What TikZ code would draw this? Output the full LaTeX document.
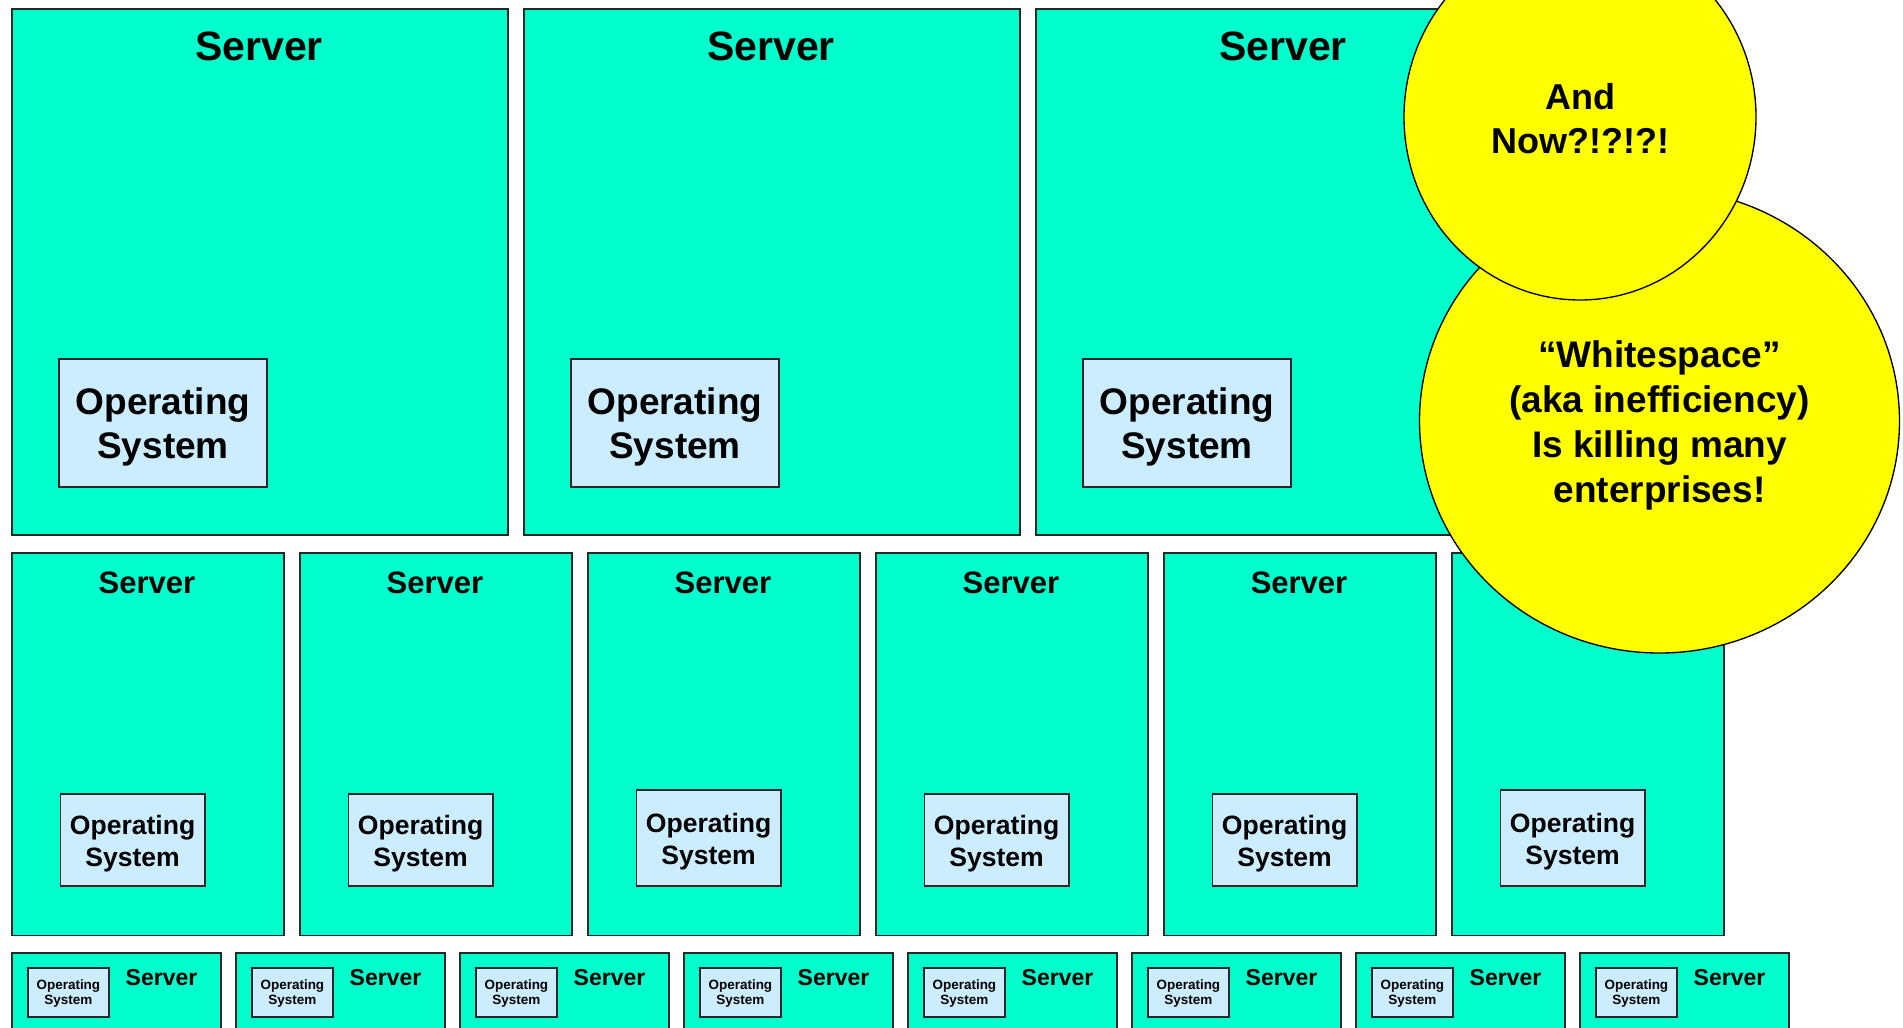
\documentclass[tikz,border=0pt]{standalone}
\usepackage{fontspec}
\setmainfont[Ligatures=NoCommon]{Liberation Sans}
\usetikzlibrary{shapes.geometric}

\definecolor{srvfill}{RGB}{0,255,204}
\definecolor{osfill}{RGB}{204,236,255}
\definecolor{bubblefill}{RGB}{255,255,0}

% bold sans at a given size and line spacing (in pt)
\newcommand\bfs[2]{\fontsize{#1pt}{#2pt}\selectfont\bfseries}

\tikzset{
  srv/.style={draw=black!85, line width=1.3pt, fill=srvfill, inner sep=0pt, anchor=north west},
  osbox/.style={draw=black!85, line width=1.3pt, fill=osfill, inner sep=0pt, align=center},
  lbl/.style={anchor=base, inner sep=0pt},
  bubble/.style={ellipse, draw=black, line width=1pt, fill=bubblefill, inner sep=0pt, align=center}
}

\begin{document}
\begin{tikzpicture}[x=0.75pt, y=-0.75pt]
\useasboundingbox (0,0) rectangle (1903,1028);
\clip (0,0) rectangle (1903,1028);
\fill[white] (0,0) rectangle (1903,1028);

% large servers
\foreach \i/\bx in {1/11, 2/523, 3/1035} {
  \node[srv, minimum width=372pt, minimum height=394.5pt] (big\i) at (\bx,8) {};
  \node[lbl, font=\bfs{30.75}{36}] (bigtitle\i) at (\bx+248,60.7) {Server};
  \node[osbox, minimum width=156pt, minimum height=96pt] (bigos\i) at (\bx+152,423) {};
  \node[align=center, inner sep=0pt, font=\bfs{27.75}{33}] (bigostext\i)
    at ([yshift=-3pt]bigos\i.center) {Operating\\System};
}

% medium servers
\foreach \i/\bx/\oh in {1/11/69, 2/299/69, 3/587/72, 4/875/69, 5/1163/69, 6/1451/72} {
  \node[srv, minimum width=204pt, minimum height=286.9pt] (mid\i) at (\bx,552) {};
  \node[lbl, font=\bfs{23.25}{28}] (midtitle\i) at (\bx+136,593) {Server};
  \node[osbox, anchor=south west, minimum width=108.4pt, minimum height=\oh pt] (midos\i) at (\bx+48.5,887) {};
  \node[align=center, inner sep=0pt, font=\bfs{19.9}{24}] (midostext\i)
    at ([yshift=-2.6pt]midos\i.center) {Operating\\System};
}

% small servers
\foreach \i in {0,...,7} {
  \pgfmathsetmacro\bx{11+224*\i}
  \node[srv, minimum width=156.75pt, minimum height=120pt] (sml\i) at (\bx,952) {};
  \node[lbl, font=\bfs{17.25}{20}] (smltitle\i) at (\bx+150.5,985) {Server};
  \node[osbox, anchor=north west, minimum width=61.1pt, minimum height=36.75pt] (smlos\i) at (\bx+15.8,967) {};
  \node[align=center, inner sep=0pt, font=\bfs{10.1}{11.25}] (smlostext\i)
    at ([yshift=-1.2pt]smlos\i.center) {Operating\\System};
}

% callouts
\node[bubble, minimum width=360pt, minimum height=348pt] (waste) at (1659.5,421) {};
\node[align=center, inner sep=0pt, font=\bfs{27.75}{33.75}] (wastetext)
  at ([yshift=-3pt]waste.center) {“Whitespace”\\(aka inefficiency)\\Is killing many\\enterprises!};
\node[bubble, minimum width=264pt, minimum height=274.5pt] (question) at (1580,117) {};
\node[align=center, inner sep=0pt, font=\bfs{27}{33}] (questiontext)
  at ([yshift=-1.5pt]question.center) {And\\Now?!?!?!};
\end{tikzpicture}
\end{document}
